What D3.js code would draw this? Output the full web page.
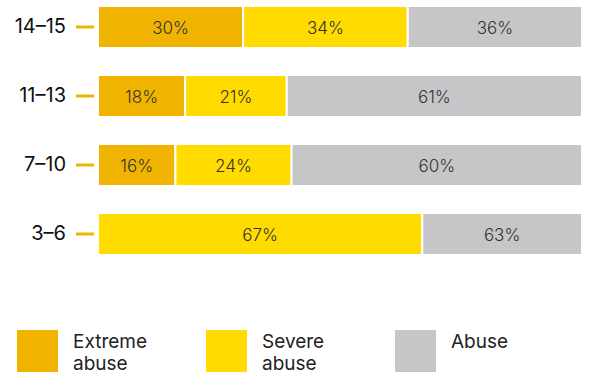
<!DOCTYPE html>
<html>
<head>
<meta charset="utf-8">
<script src="https://cdn.jsdelivr.net/npm/d3@7"></script>
<style>
  body { margin: 0; background: #fff; }
  svg { display: block; font-family: Inter, "Noto Sans", sans-serif; }
</style>
</head>
<body>
<div id="chart"></div>
<script>
// data
var ages = ["14–15", "11–13", "7–10", "3–6"];
var extreme = [30, 18, 16, 0];
var severe = [34, 21, 24, 67];
var abuse = [36, 61, 60, 33];
// printed labels (the 3–6 abuse label reads 63% in the source)
var extremeLabels = ["30%", "18%", "16%", ""];
var severeLabels = ["34%", "21%", "24%", "67%"];
var abuseLabels = ["36%", "61%", "60%", "63%"];
var seriesNames = ["Extreme abuse", "Severe abuse", "Abuse"];

var colors = ["#f0b400", "#ffdb00", "#c6c6c8"];

var svgWidth = 589, svgHeight = 374;
var margin = {top: 6, right: 7, bottom: 110, left: 98};
var width = svgWidth - margin.left - margin.right;

var svg = d3.select("#chart").append("svg")
    .attr("width", svgWidth)
    .attr("height", svgHeight);

var g = svg.append("g")
    .attr("transform", "translate(" + margin.left + "," + margin.top + ")");

var x = d3.scaleLinear().domain([0, 100]).range([0, width]);
// 42px bars on a 69px pitch
var y = d3.scaleBand().domain(ages).range([0, 3 * 69 + 42]).paddingInner(27 / 69);

var rows = ages.map(function(a, i) {
    return {age: a, values: [extreme[i], severe[i], abuse[i]],
            labels: [extremeLabels[i], severeLabels[i], abuseLabels[i]]};
});

var series = d3.stack().keys([0, 1, 2]).value(function(d, k) { return d.values[k]; })(rows);

series.forEach(function(s, k) {
    var grp = g.append("g");
    grp.selectAll("rect")
        .data(s)
        .enter().filter(function(d) { return d[1] > d[0]; })
        .append("rect")
        .attr("x", function(d) { return x(d[0]); })
        .attr("y", function(d) { return y(d.data.age); })
        .attr("width", function(d) { return x(d[1]) - x(d[0]); })
        .attr("height", y.bandwidth())
        .attr("fill", colors[k])
        .attr("stroke", "#fff")
        .attr("stroke-width", 2);

    grp.selectAll("text")
        .data(s)
        .enter().filter(function(d) { return d[1] > d[0]; })
        .append("text")
        .attr("x", function(d) { return (x(d[0]) + x(d[1])) / 2; })
        .attr("y", function(d) { return y(d.data.age) + y.bandwidth() / 2; })
        .attr("dy", "0.42em")
        .attr("text-anchor", "middle")
        .style("font-size", "17px")
        .style("font-weight", 300)
        .attr("fill", "#333")
        .text(function(d) { return d.data.labels[k]; });
});

// y axis: label + short orange tick
var yAxis = g.append("g")
    .call(d3.axisLeft(y).tickSize(0).tickPadding(32));
yAxis.select(".domain").remove();
yAxis.selectAll("text")
    .style("font-size", "20px")
    .style("font-family", "Inter, sans-serif")
    .attr("dy", "0.3em")
    .attr("fill", "#111");
yAxis.selectAll(".tick").append("line")
    .attr("x1", -22).attr("x2", -4)
    .attr("stroke", colors[0])
    .attr("stroke-width", 3);

// legend
var legendX = [17, 206, 395];
var legend = svg.append("g").attr("transform", "translate(0,330)");
seriesNames.forEach(function(name, k) {
    var item = legend.append("g").attr("transform", "translate(" + legendX[k] + ",0)");
    item.append("rect")
        .attr("width", 41).attr("height", 42)
        .attr("fill", colors[k]);
    var words = k < 2 ? name.split(" ") : [name];
    item.append("text")
        .attr("x", 56).attr("y", 18)
        .style("font-size", "19px")
        .attr("fill", "#222")
        .selectAll("tspan")
        .data(words)
        .enter().append("tspan")
        .attr("x", 56)
        .attr("dy", function(d, i) { return i === 0 ? 0 : 22; })
        .text(function(d) { return d; });
});
</script>
</body>
</html>
